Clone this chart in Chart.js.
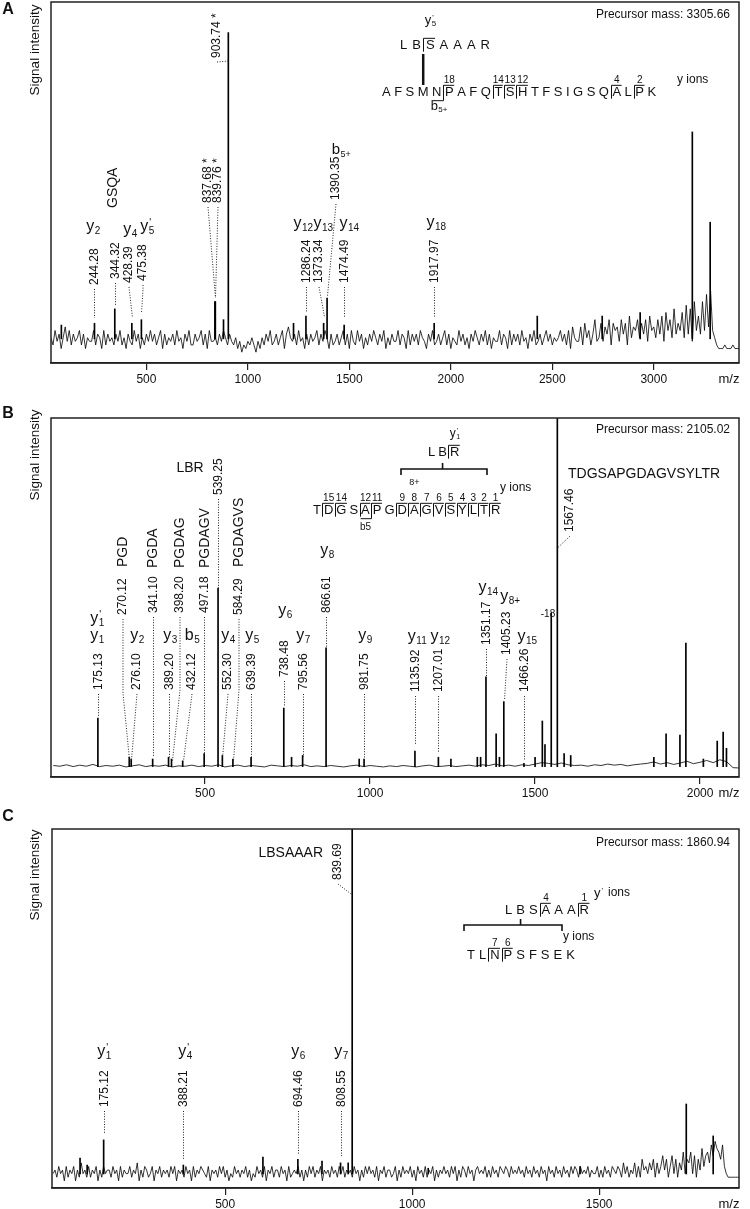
<!DOCTYPE html>
<html>
<head>
<meta charset="utf-8">
<script src="https://cdn.jsdelivr.net/npm/chart.js@4.4.1/dist/chart.umd.min.js"></script>
<style>
  body { margin: 0; background: #fff; }
  .panel { position: absolute; left: 0; width: 750px; }
  canvas { display: block; }
</style>
</head>
<body>
<div class="panel" style="top:0px"><canvas id="specA" width="750" height="396"></canvas></div>
<div class="panel" style="top:396px"><canvas id="specB" width="750" height="410"></canvas></div>
<div class="panel" style="top:806px"><canvas id="specC" width="750" height="403"></canvas></div>
<script>
const FONT = '"Liberation Sans", Arial, Helvetica, sans-serif';

// noise traces are typed as base-36 digits (0-9, a=10 ... k=20), one per m/z step
const digits = s => s.split('').map(c => parseInt(c, 36));

// ---------- panel A data ----------
const ticksA = [500, 1000, 1500, 2000, 2500, 3000];
const baseA = 6.7;
const noiseStartA = 30, noiseStepA = 10;
const noiseA = digits(
  '7596847a69' + '5867958476' + '6958749586' + '7586957486' + '5968475869' + '6857948576' +
  '8596748695' + '5867958496' + '6758697586' + '5746354657' + '5364758695' + '6857948a76' +
  '8596748586' + '7958697485' + '6857958496' + '5968475869' + '7586947586' + '6958749586' +
  '8597648695' + '6857958476' + '5968574869' + '7586958476' + '6958749586' + '8596748695' +
  '6857968576' + '7968594a76' + '6a5b7958c6' + '7b6a8c5b9a' + '6c8b5d7a9c' + '7b8c6d9a7c' +
  '8d6e9c7f8b' + '9e7g8f6h9d' + '8h9jak9754' + '4454445444');
const peakMzA = [81, 244.28, 344.32, 428.39, 475.38, 837.68, 839.76, 880, 903.74, 1225, 1286.24,
  1373.34, 1390.35, 1474.49, 1917.97, 2426, 2746, 2933, 3190, 3278];
const peakIntA = [10.5, 11, 15, 11, 12, 17, 17, 12, 91.5, 11, 13, 11, 18, 10.5, 11, 13, 13, 14, 64, 39];
const massLabelsA = ['244.28', '344.32', '428.39', '475.38', '837.68 *', '839.76 *', '903.74 *',
  '1286.24', '1373.34', '1390.35', '1474.49', '1917.97'];
const ionLabelsA = [['y', '2', ''], ['y', '4', ''], ['y', '5', "'"], ['y', '12', ''], ['y', '13', ''],
  ['y', '14', ''], ['y', '18', ''], ['b', '5+', '']];

// ---------- panel B data ----------
const ticksB = [500, 1000, 1500, 2000];
const baseB = 2.9;
const noiseStartB = 40, noiseStepB = 20;
const noiseB = [
  3.2,3.0,3.4,2.9,3.3,3.0,3.5,2.9,3.2,3.0, 3.3,2.8,3.1,3.4,2.9,3.2,3.0,3.3,2.8,3.1,
  3.0,3.3,2.9,3.2,3.0,3.4,2.8,3.1,3.3,2.9, 3.2,3.0,2.8,3.3,3.1,2.9,3.2,3.0,3.4,2.9,
  3.1,2.9,3.2,3.0,2.8,3.1,3.3,2.9,3.2,3.0, 2.8,3.1,2.9,3.2,3.0,2.8,3.1,3.3,2.9,3.0,
  3.2,2.9,3.1,3.3,3.0,3.4,3.2,3.6,3.1,3.3, 3.0,3.4,3.2,3.6,4.0,3.8,3.5,3.9,3.4,3.2,
  3.3,3.0,3.4,3.2,3.6,3.3,3.5,3.1,3.4,3.6, 3.8,4.2,3.6,4.0,3.5,3.9,4.4,3.7,4.1,4.6,
  4.0,4.8,4.3,2.6,2.5
];
const peakMzB = [175.13, 270.12, 276.10, 341.10, 389.20, 398.20, 432.12, 497.18, 539.25, 552.30,
  584.29, 639.39, 738.48, 762, 795.56, 866.61, 967, 981.75, 1135.92, 1207.01, 1245, 1325, 1335,
  1351.17, 1382, 1392, 1405.23, 1466.26, 1500, 1522, 1530, 1549, 1567.46, 1588, 1608, 1860, 1897,
  1939, 1957, 2010, 2052, 2070, 2080];
const peakIntB = [16.4, 5.5, 5, 5, 5.5, 5, 4.5, 6.5, 52.6, 6, 5, 5.5, 19.2, 5.5, 6, 36, 5, 5, 7.2,
  5.5, 5, 5.5, 5.5, 27.9, 12, 5.5, 21, 3.8, 5.5, 15.6, 9, 45.7, 105, 6.5, 6, 5.5, 12, 11.7, 37.3,
  5, 10, 12.5, 8];
const massLabelsB = ['175.13', '270.12', '276.10', '341.10', '389.20', '398.20', '432.12', '497.18',
  '539.25', '552.30', '584.29', '639.39', '738.48', '795.56', '866.61', '981.75', '1135.92',
  '1207.01', '1351.17', '1405.23', '1466.26', '1567.46'];
const fragLabelsB = ['PGD', 'PGDA', 'PGDAG', 'PGDAGV', 'PGDAGVS'];
const ionLabelsB = [['y', '1', "'"], ['y', '1', ''], ['y', '2', ''], ['y', '3', ''], ['b', '5', ''],
  ['y', '4', ''], ['y', '5', ''], ['y', '6', ''], ['y', '7', ''], ['y', '8', ''], ['y', '9', ''],
  ['y', '11', ''], ['y', '12', ''], ['y', '14', ''], ['y', '8+', ''], ['y', '15', '']];

// ---------- panel C data ----------
const ticksC = [500, 1000, 1500];
const baseC = 3.9;
const noiseStartC = 40, noiseStepC = 5;
const noiseC = digits(
  '4536452635' + '4625374536' + '3546253645' + '5364526354' + '4635472536' + '5346254635' +
  '4536462545' + '3645263546' + '5436254536' + '4635243645' + '3546352436' + '4536254635' +
  '5364526345' + '4635253646' + '3546254536' + '4536463545' + '3645253646' + '4536254635' +
  '5346253645' + '4635264536' + '3546253546' + '4536462536' + '5364525645' + '4635364536' +
  '5465364546' + '4536453645' + '3645264536' + '4536453646' + '5364546354' + '4635364536' +
  '5465374635' + '4736385647' + '5837469583' + '6948375a48' + '7a49385b69' + 'a7c9dba8c6' +
  '43333333');
const peakMzC = [112, 131, 175.12, 388.21, 601, 694.46, 759, 808.55, 829, 839.69, 1043, 1449, 1733, 1805];
const peakIntC = [8.3, 6.4, 13.4, 6.4, 8.6, 8, 7.5, 7, 7, 105, 5.5, 6, 23.4, 14.5];
const massLabelsC = ['175.12', '388.21', '694.46', '808.55', '839.69'];
const ionLabelsC = [['y', '1', "'"], ['y', '4', "'"], ['y', '6', ''], ['y', '7', '']];

// ---------- annotation layout (page pixels) ----------
// mass label: [column x or null = at peak, text bottom, knee y or null, leader end y]
const layMassA = [[null, 285, null, 318], [null, 279, null, 305], [129, 283, null, 318], [143, 281, 290, 313],
  [208, 203, null, 298], [218, 203, null, 298], [217, 58, null, 61], [null, 283, null, 312],
  [319, 283, null, 317], [336, 200, null, 296], [null, 283, null, 318], [null, 283, null, 318]];
const layIonA = [[93, 231], [130, 234], [147, 231], [303, 228], [323, 228], [349, 228], [436, 227], [341, 154]];
const layMassB = [[null, 690, null, 716], [123, 615, 693, 760], [137, 690, null, 760], [null, 613, null, 756],
  [null, 690, null, 759], [180, 613, 690, 761], [192, 690, null, 761], [null, 613, null, 755],
  [null, 495, null, 588], [228, 690, null, 758], [239, 615, 690, 761], [null, 690, null, 757],
  [null, 677, null, 706], [null, 690, null, 757], [null, 613, null, 647], [null, 690, null, 758],
  [null, 692, null, 745], [null, 692, null, 752], [null, 645, null, 676], [507, 655, null, 700],
  [null, 692, null, 760], [570, 532, null, 548]];
const layFragB = [[123, 567], [153, 568], [180, 568], [205, 568], [239, 567]];
const layIonB = [[97, 623], [97, 640], [137, 640], [170, 640], [192, 640], [228, 640], [252, 640],
  [285, 615], [303, 640], [327, 555], [365, 640], [417, 641], [440, 641], [488, 592], [510, 601], [527, 641]];
const layMassC = [[null, 1107, null, 1133], [null, 1107, null, 1160], [null, 1107, null, 1155],
  [null, 1107, null, 1156], [338, 880, null, 895]];
const layIonC = [[104, 1056], [185, 1056], [298, 1056], [341, 1056]];

// ---------- drawing helpers ----------
function font(size, bold) { return (bold ? 'bold ' : '') + size + 'px ' + FONT; }

function dotted(ctx, pts) {
  ctx.save();
  ctx.setLineDash([1, 1.6]);
  ctx.lineWidth = 1;
  ctx.strokeStyle = '#222';
  ctx.beginPath();
  ctx.moveTo(pts[0][0], pts[0][1]);
  for (let i = 1; i < pts.length; i++) ctx.lineTo(pts[i][0], pts[i][1]);
  ctx.stroke();
  ctx.restore();
}

function vtext(ctx, str, x, bottom, size) {
  ctx.save();
  ctx.translate(x, bottom);
  ctx.rotate(-Math.PI / 2);
  ctx.font = font(size);
  ctx.textAlign = 'left';
  ctx.textBaseline = 'middle';
  ctx.fillText(str, 0, 0);
  ctx.restore();
}

function ion(ctx, x, y, main, sub, sup, size) {
  const ss = Math.round(size * 0.62);
  ctx.font = font(size);
  const wm = ctx.measureText(main).width;
  ctx.font = font(ss);
  const ws = Math.max(ctx.measureText(sub).width, ctx.measureText(sup).width);
  const x0 = x - (wm + ws) / 2;
  ctx.textAlign = 'left';
  ctx.textBaseline = 'alphabetic';
  ctx.font = font(size);
  ctx.fillText(main, x0, y);
  ctx.font = font(ss);
  ctx.fillText(sub, x0 + wm + 0.5, y + ss * 0.3);
  if (sup) ctx.fillText(sup, x0 + wm + 1, y - size * 0.32);
}

function massLabels(ctx, sx, labels, lay) {
  labels.forEach((t, i) => {
    const px = Math.round(sx(parseFloat(t))) + 0.5;
    const [lx, bottom, knee, endY] = lay[i];
    const x = lx === null ? px : lx;
    vtext(ctx, t, x, bottom, 12);
    const pts = [[x, bottom + 4]];
    if (knee !== null) pts.push([x, knee]);
    pts.push([px, endY]);
    dotted(ctx, pts);
  });
}

// sequence with fragmentation marks; cuts: [index of letter after the cut, type, number]
function sequence(ctx, s) {
  ctx.font = font(s.size);
  const xs = [];
  let x = s.x;
  for (const ch of s.text) {
    const w = ctx.measureText(ch).width;
    xs.push([x, w]);
    x += w + s.gap;
  }
  ctx.textAlign = 'left';
  ctx.textBaseline = 'middle';
  s.text.split('').forEach((ch, i) => ctx.fillText(ch, xs[i][0], s.y));
  const capH = s.size * 0.72;
  const top = s.y - capH / 2 - 2, bot = s.y + capH / 2 + 2;
  ctx.lineWidth = 1;
  ctx.strokeStyle = '#111';
  for (const [i, type, num] of s.cuts) {
    const gx = Math.round(xs[i][0] - s.gap / 2) + 0.5;
    ctx.beginPath();
    if (type.includes('y')) {
      ctx.moveTo(gx, bot);
      ctx.lineTo(gx, top);
      ctx.lineTo(xs[i][0] + xs[i][1] + 0.5, top);
    }
    if (type.includes('b')) {
      ctx.moveTo(gx, top);
      ctx.lineTo(gx, bot + 2);
      ctx.lineTo(xs[i - 1][0] - 0.5, bot + 2);
    }
    ctx.stroke();
    if (num) {
      ctx.font = font(10);
      ctx.textAlign = 'center';
      ctx.textBaseline = 'alphabetic';
      ctx.fillText(num, xs[i][0] + xs[i][1] / 2, top - 2);
      ctx.font = font(s.size);
      ctx.textAlign = 'left';
      ctx.textBaseline = 'middle';
    }
  }
  return xs.map(([a, w]) => a + w / 2);
}

function bracket(ctx, x1, x2, y, xm) {
  ctx.save();
  ctx.lineWidth = 1.6;
  ctx.strokeStyle = '#111';
  ctx.beginPath();
  ctx.moveTo(x1, y + 6); ctx.lineTo(x1, y); ctx.lineTo(x2, y); ctx.lineTo(x2, y + 6);
  ctx.moveTo(xm, y); ctx.lineTo(xm, y - 6);
  ctx.stroke();
  ctx.restore();
}

function text(ctx, str, x, y, size, align) {
  ctx.font = font(size);
  ctx.textAlign = align || 'left';
  ctx.textBaseline = 'middle';
  ctx.fillText(str, x, y);
}

// ---------- per-panel annotations ----------
function annotateA(ctx, sx) {
  massLabels(ctx, sx, massLabelsA, layMassA);
  ionLabelsA.forEach((l, i) => ion(ctx, layIonA[i][0], layIonA[i][1], l[0], l[1], l[2], l[0] === 'b' ? 15 : 16));
  vtext(ctx, 'GSQA', 113, 208, 14);
  text(ctx, 'Precursor mass: 3305.66', 730, 15, 12, 'right');
  const top = sequence(ctx, { text: 'LBSAAAR', x: 400, y: 45, size: 13, gap: 5, cuts: [[2, 'y', null]] });
  ion(ctx, top[2], 24, 'y', '5', "'", 13);
  const main = sequence(ctx, { text: 'AFSMNPAFQTSHTFSIGSQALPK', x: 382, y: 92, size: 13, gap: 3.5,
    cuts: [[5, 'yb', '18'], [9, 'y', '14'], [10, 'y', '13'], [11, 'y', '12'], [19, 'y', '4'], [21, 'y', '2']] });
  ctx.save();
  ctx.lineWidth = 2.5;
  ctx.beginPath(); ctx.moveTo(main[3], 54); ctx.lineTo(main[3], 85); ctx.stroke();
  ctx.restore();
  ion(ctx, main[4] + 2, 110, 'b', '5+', '', 13);
  text(ctx, 'y ions', 677, 80, 12);
}

function annotateB(ctx, sx) {
  massLabels(ctx, sx, massLabelsB, layMassB);
  fragLabelsB.forEach((f, i) => vtext(ctx, f, layFragB[i][0], layFragB[i][1], 14));
  ionLabelsB.forEach((l, i) => ion(ctx, layIonB[i][0], layIonB[i][1], l[0], l[1], l[2], 16));
  text(ctx, '-18', 548, 614, 10, 'center');
  text(ctx, 'LBR', 190, 468, 14, 'center');
  text(ctx, 'TDGSAPGDAGVSYLTR', 568, 474, 14);
  text(ctx, 'Precursor mass: 2105.02', 730, 430, 12, 'right');
  const lbr = sequence(ctx, { text: 'LBR', x: 428, y: 452, size: 13, gap: 3, cuts: [[2, 'y', null]] });
  ion(ctx, lbr[2], 437, 'y', '1', "'", 12);
  bracket(ctx, 401, 487, 469, lbr[1]);
  const seq = sequence(ctx, { text: 'TDGSAPGDAGVSYLTR', x: 313, y: 510, size: 13, gap: 3,
    cuts: [[1, 'y', '15'], [2, 'y', '14'], [4, 'y', '12'], [5, 'yb', '11'], [7, 'y', '9'], [8, 'y', '8'],
      [9, 'y', '7'], [10, 'y', '6'], [11, 'y', '5'], [12, 'y', '4'], [13, 'y', '3'], [14, 'y', '2'], [15, 'y', '1']] });
  text(ctx, '8+', seq[8], 483, 9, 'center');
  text(ctx, 'b5', seq[4], 527, 10, 'center');
  text(ctx, 'y ions', 500, 488, 12);
}

function annotateC(ctx, sx) {
  massLabels(ctx, sx, massLabelsC, layMassC);
  ionLabelsC.forEach((l, i) => ion(ctx, layIonC[i][0], layIonC[i][1], l[0], l[1], l[2], 16));
  text(ctx, 'LBSAAAR', 323, 853, 14, 'right');
  text(ctx, 'Precursor mass: 1860.94', 730, 843, 12, 'right');
  const top = sequence(ctx, { text: 'LBSAAAR', x: 505, y: 910, size: 13, gap: 4, cuts: [[3, 'y', '4'], [6, 'y', '1']] });
  bracket(ctx, 464, 562, 925, top[1]);
  sequence(ctx, { text: 'TLNPSFSEK', x: 467, y: 955, size: 13, gap: 4, cuts: [[2, 'y', '7'], [3, 'y', '6']] });
  ion(ctx, 598, 897, 'y', '', "'", 13);
  text(ctx, 'ions', 608, 893, 12);
  text(ctx, 'y ions', 563, 937, 12);
}

// ---------- chart builder ----------
const panels = [
  { id: 'specA', top: 0, letter: 'A', letterY: 10, padTop: 2, axisH: 33, yAxisW: 51, xMin: 30, xMax: 3420,
    ticks: ticksA, base: baseA, noise: noiseA, start: noiseStartA, step: noiseStepA,
    mz: peakMzA, inten: peakIntA, annotate: annotateA, titleY: 50 },
  { id: 'specB', top: 396, letter: 'B', letterY: 414, padTop: 22, axisH: 29, yAxisW: 51, xMin: 33, xMax: 2118,
    ticks: ticksB, base: baseB, noise: noiseB, start: noiseStartB, step: noiseStepB,
    mz: peakMzB, inten: peakIntB, annotate: annotateB, titleY: 455 },
  { id: 'specC', top: 806, letter: 'C', letterY: 817, padTop: 23, axisH: 21, yAxisW: 52, xMin: 37, xMax: 1874,
    ticks: ticksC, base: baseC, noise: noiseC, start: noiseStartC, step: noiseStepC,
    mz: peakMzC, inten: peakIntC, annotate: annotateC, titleY: 875 }
];

const decorations = {
  id: 'decorations',
  afterDatasetsDraw(chart, args, opts) {
    const p = opts.panel;
    const ctx = chart.ctx;
    const a = chart.chartArea;
    const sx = v => chart.scales.x.getPixelForValue(v);
    ctx.save();
    ctx.strokeStyle = '#222';
    ctx.lineWidth = 1.5;
    ctx.strokeRect(a.left, a.top, a.right - a.left, a.bottom - a.top);
    ctx.fillStyle = '#111';
    text(ctx, 'm/z', 729, a.bottom + 16, 13, 'center');
    ctx.translate(0, -p.top);
    ctx.font = font(16, true);
    ctx.textAlign = 'center';
    ctx.fillText(p.letter, 8, p.letterY);
    ctx.save();
    ctx.translate(35, p.titleY);
    ctx.rotate(-Math.PI / 2);
    text(ctx, 'Signal intensity', 0, 0, 13.5, 'center');
    ctx.restore();
    p.annotate(ctx, sx);
    ctx.restore();
  }
};

panels.forEach(p => {
  const noisePts = p.noise.map((v, i) => ({ x: p.start + i * p.step, y: v }));
  const peakBars = p.mz.map((m, i) => ({ x: m, y: [p.base, p.inten[i]] }));
  new Chart(document.getElementById(p.id), {
    type: 'line',
    data: {
      datasets: [
        { type: 'line', data: noisePts, borderColor: '#000', borderWidth: 0.8, pointRadius: 0, tension: 0 },
        { type: 'bar', data: peakBars, backgroundColor: '#000', borderWidth: 0, barThickness: 1, grouped: false }
      ]
    },
    options: {
      responsive: false,
      animation: false,
      events: [],
      layout: { padding: { top: p.padTop, right: 11, left: 0, bottom: 0 } },
      plugins: { legend: { display: false }, tooltip: { enabled: false }, decorations: { panel: p } },
      scales: {
        x: {
          type: 'linear', min: p.xMin, max: p.xMax, offset: false,
          afterBuildTicks: s => { s.ticks = p.ticks.map(v => ({ value: v })); },
          afterFit: s => { s.height = p.axisH; },
          grid: { display: true, offset: false, drawOnChartArea: false, drawTicks: true, tickLength: 7, color: '#222', lineWidth: 1.2 },
          border: { display: true, color: '#222', width: 1.5 },
          ticks: { color: '#111', font: { family: FONT, size: 12 }, padding: 2, maxRotation: 0, autoSkip: false,
            callback: v => String(v) }
        },
        y: {
          min: 0, max: 100,
          afterFit: s => { s.width = p.yAxisW; },
          grid: { display: false },
          border: { display: false },
          ticks: { display: false }
        }
      }
    },
    plugins: [decorations]
  });
});
</script>
</body>
</html>
